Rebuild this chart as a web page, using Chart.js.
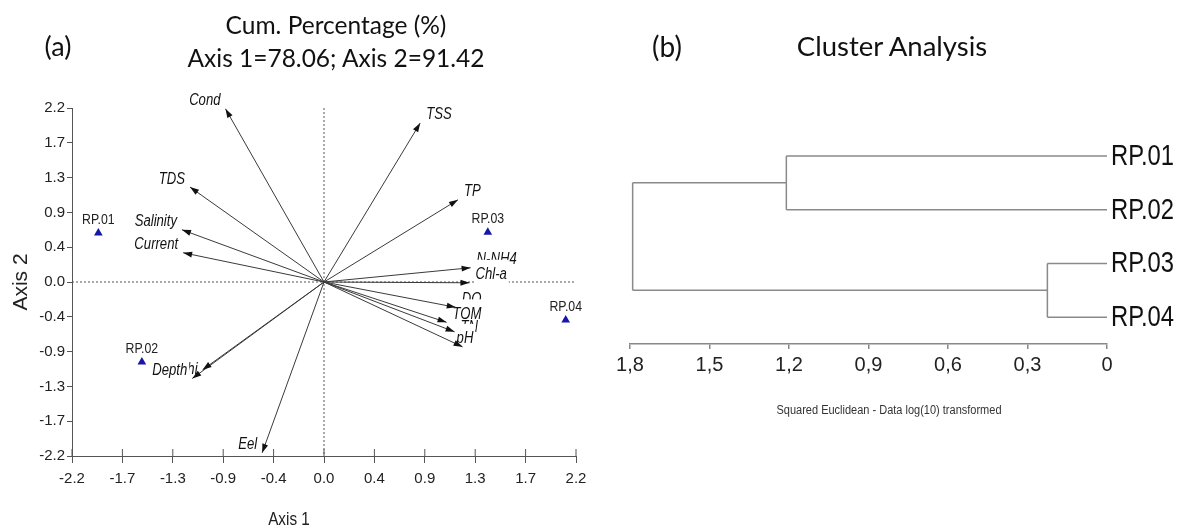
<!DOCTYPE html>
<html>
<head>
<meta charset="utf-8">
<script src="https://cdn.jsdelivr.net/npm/chart.js@4.4.1/dist/chart.umd.min.js"></script>
<style>
  body { margin: 0; width: 1183px; height: 532px; background: #fff; position: relative; overflow: hidden; color: #111; }
  canvas { position: absolute; top: 0; }
  #pca { left: 0; }
  #dendro { left: 600px; }
  .t { position: absolute; white-space: nowrap; line-height: 1; transform: translate(-50%, -50%); }
  .title { font-family: Lato, "Open Sans", sans-serif; }
  .narrow { font-family: "Liberation Sans", sans-serif; }
</style>
</head>
<body>
<canvas id="pca" width="600" height="532"></canvas>
<canvas id="dendro" width="583" height="532"></canvas>

<div class="t title" style="left:58px; top:45px; font-size:27px;">(a)</div>
<div class="t title" style="left:336px; top:25px; font-size:24.5px;">Cum. Percentage (%)</div>
<div class="t title" style="left:336px; top:58px; font-size:24.5px;">Axis 1=78.06; Axis 2=91.42</div>
<div class="t narrow" style="left:289px; top:519px; font-size:18px; color:#222; transform:translate(-50%,-50%) scaleX(0.85);">Axis 1</div>

<div class="t title" style="left:667px; top:46px; font-size:28px;">(b)</div>
<div class="t title" style="left:892px; top:46px; font-size:27.5px;">Cluster Analysis</div>
<div class="t narrow" style="left:889px; top:410px; font-size:12.5px; color:#333; transform:translate(-50%,-50%) scaleX(0.88);">Squared Euclidean - Data log(10) transformed</div>

<script>
// PCA biplot: variable loadings
const varNames = ["Cond", "TSS", "TDS", "TP", "Salinity", "Current", "hi", "Depth", "Eel",
                  "N-NH4", "Chl-a", "DO", "TOM", "TN", "pH"];
const varAxis1 = [-0.86, 0.84, -1.17, 1.17, -1.24, -1.23, -1.06, -1.15, -0.54,
                  1.28, 1.27, 1.15, 1.07, 1.14, 1.21];
const varAxis2 = [2.19, 2.01, 1.20, 1.04, 0.66, 0.37, -1.11, -1.22, -2.16,
                  0.18, -0.01, -0.32, -0.51, -0.63, -0.82];

// site scores
const siteNames = ["RP.01", "RP.02", "RP.03", "RP.04"];
const siteAxis1 = [-1.97, -1.59, 1.43, 2.11];
const siteAxis2 = [0.62, -1.01, 0.63, -0.48];

// both axes share the same ticks
const axisTicks = [-2.2, -1.76, -1.32, -0.88, -0.44, 0, 0.44, 0.88, 1.32, 1.76, 2.2];
const axisTickLabels = ["-2.2", "-1.7", "-1.3", "-0.9", "-0.4", "0.0", "0.4", "0.9", "1.3", "1.7", "2.2"];

// cluster analysis (leaves, then merges)
const leafNames = ["RP.01", "RP.02", "RP.03", "RP.04"];
const linkLeft = [0, 2, 4];
const linkRight = [1, 3, 5];
const linkHeight = [1.21, 0.225, 1.79];
const dendroTicks = [0, 0.3, 0.6, 0.9, 1.2, 1.5, 1.8];
const dendroTickLabels = ["0", "0,3", "0,6", "0,9", "1,2", "1,5", "1,8"];

const SANS = "'Liberation Sans', Arial, sans-serif";
const SQUEEZE = 0.82;   // no narrow face installed, so squeeze text by hand

// small label nudges where the labels crowd each other
const labelNudge = {
  hi: { dx: 0, dy: 8 },
  TN: { dx: 0, dy: 4, noBox: true },
  pH: { dx: -12, dy: 0 }
};

function narrowText(ctx, text, x, y, align) {
  ctx.save();
  ctx.translate(x, y);
  ctx.scale(SQUEEZE, 1);
  ctx.textAlign = align;
  ctx.fillText(text, 0, 0);
  ctx.restore();
}

// ---------- left: biplot ----------
const vectorSets = varNames.map((name, i) => ({
  label: name,
  showLine: true,
  data: [{ x: 0, y: 0 }, { x: varAxis1[i], y: varAxis2[i] }],
  borderColor: "#3a3a3a",
  borderWidth: 1,
  pointRadius: 0
}));

const siteSet = {
  label: "sites",
  data: siteNames.map((n, i) => ({ x: siteAxis1[i], y: siteAxis2[i] })),
  pointStyle: "triangle",
  pointRadius: 5,
  backgroundColor: "#1616a8",
  borderColor: "#1616a8",
  borderWidth: 0
};

const biplotPlugin = {
  id: "biplot",
  beforeDatasetsDraw(chart) {
    const { ctx, scales: { x, y } } = chart;
    const x0 = x.getPixelForValue(0), y0 = y.getPixelForValue(0);

    ctx.save();
    // dotted zero lines
    ctx.strokeStyle = "#555";
    ctx.lineWidth = 1;
    ctx.setLineDash([2, 2]);
    ctx.beginPath();
    ctx.moveTo(x0, y.getPixelForValue(2.2));
    ctx.lineTo(x0, y.getPixelForValue(-2.2));
    ctx.moveTo(x.getPixelForValue(-2.2), y0);
    ctx.lineTo(x.getPixelForValue(2.2), y0);
    ctx.stroke();
    ctx.setLineDash([]);

    // x ticks cross the axis
    const yb = y.getPixelForValue(-2.2);
    ctx.beginPath();
    axisTicks.forEach(v => {
      const px = x.getPixelForValue(v);
      ctx.moveTo(px, yb - 7);
      ctx.lineTo(px, yb);
    });
    ctx.stroke();

    // variable labels on white boxes (later ones hide earlier ones)
    ctx.font = "italic 16px " + SANS;
    ctx.textBaseline = "middle";
    varNames.forEach((name, i) => {
      const nudge = labelNudge[name] || { dx: 0, dy: 0 };
      const tx = x.getPixelForValue(varAxis1[i]) + nudge.dx;
      const ty = y.getPixelForValue(varAxis2[i]) - 8 + nudge.dy;
      const w = ctx.measureText(name).width * SQUEEZE;
      const left = varAxis1[i] > 0 ? tx + 6 : tx - 5 - w;
      if (!nudge.noBox) {
        ctx.fillStyle = "#fff";
        ctx.fillRect(left - 1, ty - 15, w + 3, 24);
      }
      ctx.fillStyle = "#111";
      narrowText(ctx, name, left, ty, "left");
    });

    // site labels
    ctx.font = "15px " + SANS;
    ctx.fillStyle = "#222";
    siteNames.forEach((name, i) => {
      narrowText(ctx, name, x.getPixelForValue(siteAxis1[i]), y.getPixelForValue(siteAxis2[i]) - 13, "center");
    });
    ctx.restore();
  },
  afterDatasetsDraw(chart) {
    const { ctx, scales: { x, y } } = chart;
    const x0 = x.getPixelForValue(0), y0 = y.getPixelForValue(0);
    ctx.save();
    ctx.fillStyle = "#111";
    varNames.forEach((name, i) => {
      const tx = x.getPixelForValue(varAxis1[i]);
      const ty = y.getPixelForValue(varAxis2[i]);
      const a = Math.atan2(ty - y0, tx - x0);
      ctx.beginPath();
      ctx.moveTo(tx, ty);
      ctx.lineTo(tx - 9 * Math.cos(a) + 3 * Math.sin(a), ty - 9 * Math.sin(a) - 3 * Math.cos(a));
      ctx.lineTo(tx - 9 * Math.cos(a) - 3 * Math.sin(a), ty - 9 * Math.sin(a) + 3 * Math.cos(a));
      ctx.closePath();
      ctx.fill();
    });
    ctx.restore();
  }
};

const sharedTicks = scale => { scale.ticks = axisTicks.map(v => ({ value: v })); };

new Chart(document.getElementById("pca"), {
  type: "scatter",
  data: { datasets: [...vectorSets, siteSet] },
  options: {
    responsive: false,
    animation: false,
    layout: { padding: { top: 108, right: 24, left: 0, bottom: 0 } },
    plugins: { legend: { display: false }, tooltip: { enabled: false } },
    scales: {
      x: {
        min: -2.2, max: 2.2,
        afterBuildTicks: sharedTicks,
        afterFit: s => { s.height = 76; },
        ticks: { callback: (v, i) => axisTickLabels[i], autoSkip: false, maxRotation: 0,
                 font: { family: SANS, size: 15 }, color: "#222", padding: 7 },
        grid: { drawOnChartArea: false, tickLength: 7, color: "#555" },
        border: { color: "#555", width: 1 }
      },
      y: {
        min: -2.2, max: 2.2,
        afterBuildTicks: sharedTicks,
        afterFit: s => { s.width = 72; },
        ticks: { callback: (v, i) => axisTickLabels[i], autoSkip: false,
                 font: { family: SANS, size: 15 }, color: "#222", padding: 2 },
        grid: { drawOnChartArea: false, tickLength: 5, color: "#555" },
        border: { color: "#555", width: 1 },
        title: { display: true, text: "Axis 2", color: "#222",
                 font: { family: SANS, size: 21 }, padding: { top: 9, bottom: 0 } }
      }
    }
  },
  plugins: [biplotPlugin]
});

// ---------- right: dendrogram ----------
const nodeY = leafNames.map((n, i) => i + 1);
const nodeH = leafNames.map(() => 0);
const segments = [];
linkHeight.forEach((h, k) => {
  const a = linkLeft[k], b = linkRight[k];
  segments.push([{ x: nodeH[a], y: nodeY[a] }, { x: h, y: nodeY[a] }]);
  segments.push([{ x: nodeH[b], y: nodeY[b] }, { x: h, y: nodeY[b] }]);
  segments.push([{ x: h, y: nodeY[a] }, { x: h, y: nodeY[b] }]);
  nodeY.push((nodeY[a] + nodeY[b]) / 2);
  nodeH.push(h);
});

// leaf names, tall and narrow like the original
const leafLabelPlugin = {
  id: "leafLabels",
  afterDraw(chart) {
    const { ctx, chartArea, scales: { y } } = chart;
    ctx.save();
    ctx.font = "29px " + SANS;
    ctx.fillStyle = "#111";
    ctx.textBaseline = "middle";
    y.ticks.forEach((t, i) => {
      narrowText(ctx, leafNames[i], chartArea.right + 4, y.getPixelForValue(t.value) + 1, "left");
    });
    ctx.restore();
  }
};

new Chart(document.getElementById("dendro"), {
  type: "scatter",
  data: {
    datasets: segments.map(seg => ({
      data: seg, showLine: true, borderColor: "#8a8a8a", borderWidth: 1.5, pointRadius: 0
    }))
  },
  options: {
    responsive: false,
    animation: false,
    layout: { padding: { top: 129, left: 30, right: 0, bottom: 0 } },
    plugins: { legend: { display: false }, tooltip: { enabled: false } },
    scales: {
      x: {
        min: 0, max: 1.8, reverse: true,
        afterBuildTicks: s => { s.ticks = dendroTicks.map(v => ({ value: v })); },
        afterFit: s => { s.height = 188; },
        ticks: { callback: (v, i) => dendroTickLabels[i], autoSkip: false, maxRotation: 0,
                 font: { family: SANS, size: 20 }, color: "#222", padding: 4 },
        grid: { drawOnChartArea: false, tickLength: 5, color: "#888", lineWidth: 1.5 },
        border: { color: "#888", width: 1.5 }
      },
      y: {
        position: "right",
        min: 0.5, max: 4.5, reverse: true,
        afterBuildTicks: s => { s.ticks = leafNames.map((n, i) => ({ value: i + 1 })); },
        afterFit: s => { s.width = 76; },
        ticks: { display: false },
        grid: { display: false, drawTicks: false },
        border: { display: false }
      }
    }
  },
  plugins: [leafLabelPlugin]
});
</script>
</body>
</html>
